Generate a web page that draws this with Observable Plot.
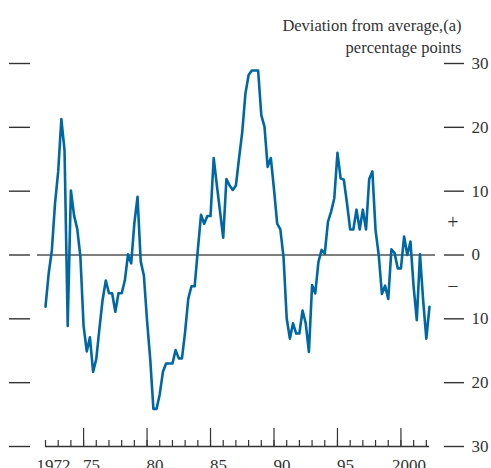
<!DOCTYPE html>
<html>
<head>
<meta charset="utf-8">
<script src="https://cdn.jsdelivr.net/npm/d3@7"></script>
<script src="https://cdn.jsdelivr.net/npm/@observablehq/plot@0.6"></script>
<style>
  html, body { margin: 0; padding: 0; background: #fff; }
  #chart { width: 491px; height: 468px; overflow: hidden; }
</style>
</head>
<body>
<div id="chart"></div>
<script>
// Quarterly series, first value = 1972 Q1
const startYear = 1972;
const values = [
  -8.1, -2.9, 0.7, 8.1, 13.1, 21.3, 16.4, -11.1, 10.1, 6.2,
  4.1, -0.3, -11.1, -15.1, -12.9, -18.3, -16.3, -11.5, -7.0, -4.0,
  -6.0, -6.0, -8.9, -6.0, -6.0, -4.0, 0.1, -1.3, 5.0, 9.1,
  -1.0, -3.2, -10.3, -16.3, -24.1, -24.1, -21.8, -18.3, -17.0, -17.0,
  -17.0, -14.9, -16.2, -16.2, -12.0, -6.8, -4.9, -4.9, 0.8, 6.3,
  4.9, 6.1, 6.1, 15.2, 10.9, 6.8, 2.7, 11.9, 10.9, 10.2,
  10.9, 15.2, 19.3, 25.3, 28.2, 28.9, 28.9, 28.9, 21.9, 20.1,
  13.8, 15.2, 10.3, 4.9, 4.0, -0.3, -9.9, -13.1, -10.7, -12.3,
  -12.3, -8.7, -10.7, -15.2, -4.7, -6.0, -1.1, 0.8, 0.2, 5.2,
  6.8, 8.9, 16.0, 12.0, 11.8, 8.1, 4.0, 4.0, 7.1, 4.0,
  7.1, 4.0, 11.9, 13.1, 3.9, 0.0, -6.1, -4.8, -6.9, 0.9,
  0.3, -2.1, -2.1, 2.9, 0.0, 2.1, -5.0, -10.2, 0.1, -7.1,
  -13.1, -8.1
];

const titleLines = ["Deviation from average,(a)", "percentage points"];
const yTicks = [-30, -20, -10, 0, 10, 20, 30];
const yTickLabels = ["30", "20", "10", "0", "10", "20", "30"];
const minorTickYears = d3.range(1972, 2003);
const majorTickYears = [1975, 1980, 1985, 1990, 1995, 2000];
const labelYears = [1972, 1975, 1980, 1985, 1990, 1995, 2000];
const labelTexts = ["1972", "75", "80", "85", "90", "95", "2000"];
const signValues = [5, -5];
const signTexts = ["+", "\u2212"];

const series = values.map((v, i) => ({date: startYear + i / 4, value: v}));
const signs = signValues.map((v, i) => ({v, s: signTexts[i]}));

const blue = "#0067a5";
const ink = "#333333";

const chart = Plot.plot({
  width: 491,
  height: 468,
  marginLeft: 45,
  marginRight: 62,
  marginTop: 63,
  marginBottom: 22,
  style: {fontFamily: "'Liberation Serif', 'DejaVu Serif', serif", fontSize: "17px", color: ink, background: "#fff"},
  x: {domain: [1972, 2002.25]},
  y: {domain: [-30, 30]},
  marks: [
    // zero line
    Plot.ruleY([0], {stroke: "#555", strokeWidth: 1.6, insetLeft: -8, insetRight: -6}),
    // x baseline
    Plot.ruleY([-30], {stroke: ink, strokeWidth: 1.3}),
    // x ticks (pointing up)
    Plot.axisX(minorTickYears, {tickSize: -6, fill: "none", stroke: ink, strokeWidth: 1.2, label: null}),
    Plot.axisX(majorTickYears, {tickSize: -18, fill: "none", stroke: ink, strokeWidth: 1.2, label: null}),
    // x labels
    Plot.axisX(labelYears, {tickSize: 0, tickPadding: 12, dx: 8, fontSize: 17, fill: ink,
      tickFormat: d => labelTexts[labelYears.indexOf(d)], label: null}),
    // left tick dashes
    Plot.axisY(yTicks, {anchor: "left", tickSize: 21, dx: -15, fill: "none", stroke: ink, strokeWidth: 1.4, label: null}),
    // right axis
    Plot.axisY(yTicks, {anchor: "right", tickSize: 20, dx: 14, tickPadding: 8, stroke: ink, strokeWidth: 1.4,
      fill: ink, fontSize: 17, tickFormat: d => yTickLabels[yTicks.indexOf(d)], label: null}),
    // + / − signs
    Plot.text(signs, {y: "v", text: "s", frameAnchor: "right", dx: 29, fontSize: 20, fill: ink}),
    // title
    Plot.text([titleLines[0]], {frameAnchor: "top-right", lineAnchor: "middle", dx: 32, dy: -38, textAnchor: "end", fontSize: 16.5, fill: ink}),
    Plot.text([titleLines[1]], {frameAnchor: "top-right", lineAnchor: "middle", dx: 32, dy: -16, textAnchor: "end", fontSize: 16.5, fill: ink}),
    // series
    Plot.line(series, {x: "date", y: "value", stroke: blue, strokeWidth: 2.6})
  ]
});
document.getElementById("chart").append(chart);
</script>
</body>
</html>
